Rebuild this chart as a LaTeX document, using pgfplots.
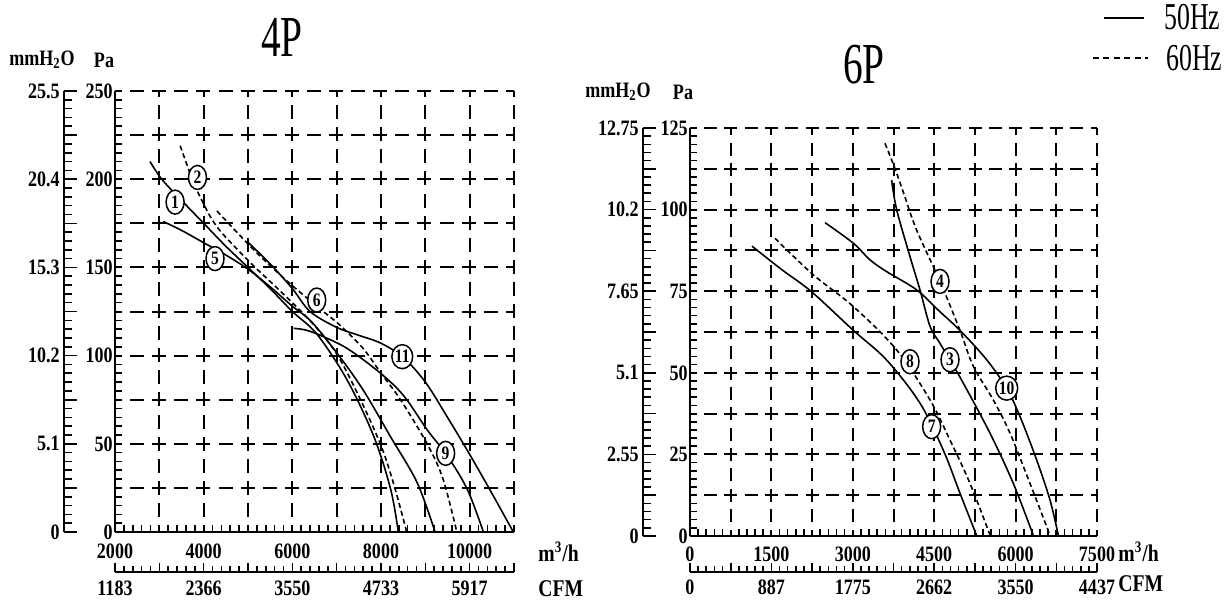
\documentclass[border=0pt]{standalone}
\usepackage{pgfplots}
\pgfplotsset{compat=1.18}
\usetikzlibrary{shapes.geometric}
\usepackage{fontspec}
\setmainfont{Liberation Serif}
\newfontfamily\cf[FakeStretch=0.82]{Liberation Serif}
\newfontfamily\tf[FakeStretch=0.68]{Liberation Serif}

\pgfplotsset{
  base/.style={scale only axis, scaled ticks=false, axis line style={line width=1pt, black},
    tick style={line width=0.8pt, black}, tick align=inside,
    tick label style={font=\cf\bfseries\fontsize{11}{11}\selectfont, black}},
  fiftyhz/.style={line width=0.8pt, black, smooth, tension=0.55},
  sixtyhz/.style={line width=0.8pt, black, smooth, tension=0.55, dash pattern=on 2.5pt off 1.6pt},
  circled/.style={draw=none, nodes near coords, point meta=explicit symbolic,
    every node near coord/.append style={anchor=center, draw, ellipse, fill=white,
      line width=0.75pt, inner sep=0pt, minimum width=9pt, minimum height=12pt,
      font=\cf\bfseries\fontsize{9.5}{9.5}\selectfont}},
}

\begin{document}
\begin{tikzpicture}
\path[use as bounding box] (0,0) rectangle (613pt,-302.5pt);

% ---------------- 4P ----------------
\begin{axis}[base,
  at={(57.5pt,-266pt)}, anchor=south west, width=199.5pt, height=220.5pt,
  xmin=2000, xmax=11000, ymin=0, ymax=250,
  axis x line*=bottom, axis y line*=left,
  xtick={2000,3000,...,11000}, xticklabels={2000,,4000,,6000,,8000,,10000,},
  ytick={0,25,...,250}, yticklabels={0,,50,,100,,150,,200,,250},
  minor x tick num=4, minor y tick num=4,
  major tick length=0pt, minor tick length=3.5pt,
  grid=major,
  major grid style={line width=1pt, black, dash pattern=on 7pt off 4.05pt, dash phase=3.5pt},
  xticklabel style={yshift=-2.5pt},
  yticklabel style={inner xsep=1pt},
]
\addplot[fiftyhz] coordinates {(2790,210) (3055,200) (3500,188) (4000,175) (4500,162) (5000,150) (5500,138) (6000,125) (6560,112) (7240,86) (7840,54) (8220,24) (8390,0)};
\addplot[fiftyhz] coordinates {(3090,176) (3500,171) (4000,164) (4500,157) (5000,149) (5500,139) (6000,128) (6440,119) (7050,100) (7610,80) (8215,54) (8815,28) (9220,0)};
\addplot[sixtyhz] coordinates {(3470,219) (3700,203) (3920,190) (4300,173) (5000,154) (5500,142) (6000,130) (6500,117) (7000,101) (7500,77) (8000,49) (8300,26) (8580,0)};
\addplot[sixtyhz] coordinates {(4300,182) (5050,162) (5500,151) (6030,139) (6650,126) (7085,117) (7600,104) (8000,90) (8440,75) (9040,50) (9400,30) (9710,0)};
\addplot[fiftyhz] coordinates {(5010,164) (5500,152) (6000,138) (6400,125) (7000,116) (7500,111.5) (8000,107) (8500,99) (9000,85) (9500,65) (10000,44) (10500,22) (10985,0)};
\addplot[fiftyhz] coordinates {(6030,115.5) (6300,114.5) (6630,111.5) (7240,104) (7990,90) (8520,77) (9040,58) (9500,43) (9950,24) (10310,0)};
\addplot[circled] coordinates {(3356,187) [1] (3860,201) [2] (4256,155) [5] (6550,131.5) [6] (8480,99.4) [11] (9458,44.6) [9]};
\end{axis}
% mmH2O 4P
\begin{axis}[base,
  at={(32pt,-266pt)}, anchor=south west, width=1pt, height=220.5pt,
  xmin=0, xmax=1, ymin=0, ymax=25.5, hide x axis, axis y line*=left,
  ytick={0,2.55,5.1,7.65,10.2,12.75,15.3,17.85,20.4,22.95,25.5},
  yticklabels={0,,5.1,,10.2,,15.3,,20.4,,25.5},
  minor y tick num=4, major tick length=6.5pt, minor tick length=4pt,
  yticklabel style={inner xsep=2pt},
]
\end{axis}
% CFM 4P
\begin{axis}[base,
  at={(57.5pt,-286pt)}, anchor=south west, width=199.5pt, height=1pt,
  xmin=2000, xmax=11000, ymin=0, ymax=1, hide y axis, axis x line*=bottom,
  xtick={2000,3000,...,11000}, xticklabels={1183,,2366,,3550,,4733,,5917,},
  minor x tick num=4, major tick length=4.5pt, minor tick length=3pt,
  xticklabel style={yshift=-1pt},
]
\end{axis}

% ---------------- 6P ----------------
\begin{axis}[base,
  at={(345pt,-268pt)}, anchor=south west, width=203.5pt, height=204pt,
  xmin=0, xmax=7500, ymin=0, ymax=125,
  axis x line*=bottom, axis y line*=left,
  xtick={0,750,...,7500}, xticklabels={0,,1500,,3000,,4500,,6000,,7500},
  ytick={0,12.5,...,125}, yticklabels={0,,25,,50,,75,,100,,125},
  minor x tick num=4, minor y tick num=4,
  major tick length=0pt, minor tick length=3.5pt,
  grid=major,
  major grid style={line width=1pt, black, dash pattern=on 6.5pt off 3.68pt, dash phase=3.25pt},
  xticklabel style={yshift=-2pt},
  yticklabel style={inner xsep=1pt},
]
\addplot[fiftyhz] coordinates {(1142,88.8) (1700,81.5) (2242,74.8) (3010,63) (3624,53.9) (4238,40.7) (4668,26.3) (4975,13.1) (5285,0)};
\addplot[sixtyhz] coordinates {(1566,91.2) (2273,80) (3010,70.3) (3808,57) (4422,41.7) (4791,29.4) (5160,16.1) (5535,0)};
\addplot[fiftyhz] coordinates {(3716,109) (3808,100) (4054,85.6) (4238,75.4) (4422,64.3) (4600,59.2) (4791,53.9) (5037,46.8) (5528,31.5) (5958,16.1) (6330,0)};
\addplot[sixtyhz] coordinates {(3593,120.3) (3777,112.6) (3950,104.4) (4177,93.7) (4607,78) (4975,63) (5221,52) (5589,41.7) (5897,31.5) (6265,16.1) (6640,0)};
\addplot[fiftyhz] coordinates {(2488,96) (3010,89.7) (3317,84.6) (3624,81) (4177,75.4) (4600,68.8) (4975,63) (5467,54) (5836,45.2) (6081,36.6) (6388,23.3) (6634,11) (6790,0)};
\addplot[circled] coordinates {(4607,78) [4] (4791,54) [3] (4054,53.4) [8] (4453,33.5) [7] (5836,45.3) [10]};
\end{axis}
% mmH2O 6P
\begin{axis}[base,
  at={(321.5pt,-268pt)}, anchor=south west, width=1pt, height=204pt,
  xmin=0, xmax=1, ymin=0, ymax=12.75, hide x axis, axis y line*=left,
  ytick={0,1.275,2.55,3.825,5.1,6.375,7.65,8.925,10.2,11.475,12.75},
  yticklabels={0,,2.55,,5.1,,7.65,,10.2,,12.75},
  minor y tick num=4, major tick length=6.5pt, minor tick length=4pt,
  yticklabel style={inner xsep=2pt},
]
\end{axis}
% CFM 6P
\begin{axis}[base,
  at={(345pt,-286pt)}, anchor=south west, width=203.5pt, height=1pt,
  xmin=0, xmax=7500, ymin=0, ymax=1, hide y axis, axis x line*=bottom,
  xtick={0,750,...,7500}, xticklabels={0,,887,,1775,,2662,,3550,,4437},
  minor x tick num=4, major tick length=4.5pt, minor tick length=3pt,
  xticklabel style={yshift=-0.5pt},
]
\end{axis}

% ---------------- text ----------------
\begin{scope}[x=0.5pt, y=-0.5pt]
\node[font=\tf\fontsize{29}{29}\selectfont] at (282,37) {4P};
\node[font=\tf\fontsize{29}{29}\selectfont] at (864,65) {6P};
\node[font=\cf\bfseries\fontsize{11}{11}\selectfont] at (42,60) {mmH\textsubscript{2}O};
\node[font=\cf\bfseries\fontsize{11}{11}\selectfont] at (104,60) {Pa};
\node[font=\cf\bfseries\fontsize{11}{11}\selectfont] at (618,92) {mmH\textsubscript{2}O};
\node[font=\cf\bfseries\fontsize{11}{11}\selectfont] at (683,92) {Pa};
\node[anchor=west, inner sep=0pt, font=\cf\bfseries\fontsize{12}{12}\selectfont] at (538,552) {m\textsuperscript{3}/h};
\node[anchor=west, inner sep=0pt, font=\cf\bfseries\fontsize{12}{12}\selectfont] at (538,589) {CFM};
\node[anchor=west, inner sep=0pt, font=\cf\bfseries\fontsize{12}{12}\selectfont] at (1118,552) {m\textsuperscript{3}/h};
\node[anchor=west, inner sep=0pt, font=\cf\bfseries\fontsize{12}{12}\selectfont] at (1118,584) {CFM};
\draw[line width=0.6pt] (1104,18) -- (1144,18);
\draw[line width=0.6pt, dash pattern=on 3pt off 2.2pt] (1093,58) -- (1148,58);
\node[anchor=west, inner sep=0pt, font=\tf\fontsize{19}{19}\selectfont] at (1164,17) {50Hz};
\node[anchor=west, inner sep=0pt, font=\tf\fontsize{19}{19}\selectfont] at (1166,58) {60Hz};
\end{scope}
\end{tikzpicture}
\end{document}
